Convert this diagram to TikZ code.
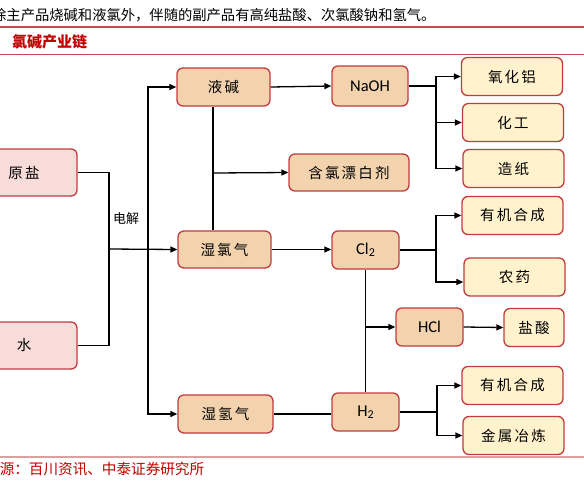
\documentclass[tikz,border=0pt]{standalone}
\usepackage{fontspec}
\setmainfont{Noto Sans CJK SC}
\newfontfamily\latfont{Carlito}
\usetikzlibrary{arrows.meta,calc}
\definecolor{boxred}{HTML}{C23B42}
\definecolor{pinkfill}{HTML}{F8DCDA}
\definecolor{tanfill}{HTML}{F2D3AE}
\definecolor{yelfill}{HTML}{FFF2CC}
\definecolor{hdrred}{HTML}{C0504D}
\definecolor{txtred}{HTML}{C00000}
\tikzset{
  basebox/.style={draw=boxred, line width=1.3pt, rounded corners=6pt, inner sep=0pt,
    font=\fontsize{14.5}{16}\selectfont\addfontfeatures{LetterSpace=15}},
  srcbox/.style={basebox, fill=pinkfill, minimum width=106pt, minimum height=47pt},
  midbox/.style={basebox, fill=tanfill},
  endbox/.style={basebox, fill=yelfill, minimum width=101pt, minimum height=38pt},
  chem/.style={font=\latfont\fontsize{16.5}{18}\selectfont},
  conn/.style={line width=1.3pt, black},
  arr/.style={conn, -{Triangle[length=7pt,width=6pt]}}
}
\begin{document}
\begin{tikzpicture}[x=1pt,y=-1pt]
\useasboundingbox (0,0) rectangle (584,483);
% header
\node[anchor=west, inner sep=0pt, font=\fontsize{14.3}{16}\selectfont] (intro) at (-8,15) {除主产品烧碱和液氯外，伴随的副产品有高纯盐酸、次氯酸钠和氢气。};
\draw[hdrred, line width=1.6pt] (0,27) -- (584,27);
\node[anchor=west, inner sep=0pt, text=txtred, font=\fontsize{15}{17}\selectfont\bfseries] (title) at (12,42) {氯碱产业链};
\draw[hdrred, line width=0.9pt] (0,54) -- (584,54);
\draw[hdrred!55, line width=1.2pt] (0,457) -- (584,457);
\node[anchor=west, inner sep=0pt, text=txtred, font=\fontsize{14.6}{16}\selectfont] (src) at (-15,469) {来源：百川资讯、中泰证券研究所};

% boxes
\node[srcbox] (yuanyan) at (24,172.5) {原盐};
\node[srcbox] (shui) at (24,345.5) {水};
\node[midbox, minimum width=93pt, minimum height=38pt] (yejian) at (223.5,87) {液碱};
\node[midbox, minimum width=93pt, minimum height=37pt] (shilvqi) at (224.5,249.5) {湿氯气};
\node[midbox, minimum width=95pt, minimum height=38pt] (shiqingqi) at (225.5,414) {湿氢气};
\node[midbox, minimum width=120pt, minimum height=37pt] (hanlv) at (349,172.5) {含氯漂白剂};
\node[midbox, chem, minimum width=76pt, minimum height=40pt] (naoh) at (370,86) {NaOH};
\node[midbox, chem, minimum width=67pt, minimum height=38pt] (cl2) at (365.5,250) {Cl\raisebox{-1.5pt}{\fontsize{12}{12}\selectfont 2}};
\node[midbox, chem, minimum width=67pt, minimum height=38pt] (h2) at (365.5,412) {H\raisebox{-1.5pt}{\fontsize{12}{12}\selectfont 2}};
\node[midbox, chem, minimum width=67pt, minimum height=38pt] (hcl) at (429.5,327) {HCl};
\node[endbox, minimum width=60pt] (yansuan) at (534,327.5) {盐酸};
\node[endbox] (yanghualv) at (512,76.5) {氧化铝};
\node[endbox] (huagong) at (513,122.5) {化工};
\node[endbox] (zaozhi) at (513.5,168.5) {造纸};
\node[endbox] (youji1) at (512.5,215.5) {有机合成};
\node[endbox] (nongyao) at (514.5,277) {农药};
\node[endbox] (youji2) at (512.5,385.5) {有机合成};
\node[endbox] (jinshu) at (513.5,435.5) {金属冶炼};

% electrolysis
\coordinate (j) at (109,249);
\coordinate (bus) at (148,249);
\draw[conn] (yuanyan.east) -| (j);
\draw[conn] (shui.east) -| (j);
\draw[arr] (j) -- (shilvqi.west);
\node[inner sep=0pt, font=\fontsize{13}{15}\selectfont] (dianjie) at (126,219) {电解};
\draw[arr] (bus) |- (yejian.west);
\draw[arr] (bus) |- (shiqingqi.west);

% liquid caustic
\coordinate (v1) at (213,173);
\draw[conn] (yejian.south -| v1) -- (shilvqi.north -| v1);
\draw[arr] (v1) -- (hanlv.west);
\draw[arr] (yejian.east) -- (naoh.west);
\coordinate (n) at (436,86);
\draw[conn] (naoh.east) -- (n);
\draw[arr] (n) |- (yanghualv.west);
\draw[arr] (n) |- (huagong.west);
\draw[arr] (n) |- (zaozhi.west);

% chlorine
\draw[arr] (shilvqi.east) -- (shilvqi.east -| cl2.west);
\coordinate (c) at (436,250);
\draw[conn] (cl2.east) -- (c);
\draw[arr] (c) |- (youji1.west);
\draw[arr] (c) |- ($(nongyao.west)+(0,5)$);
\draw[conn] (cl2.south) -- (h2.north);
\coordinate (hc) at (365.5,327);
\draw[arr] (hc) -- (hcl.west);
\draw[arr] (hcl.east) -- (yansuan.west);

% hydrogen
\draw[conn] (shiqingqi.east) -- (shiqingqi.east -| h2.west);
\coordinate (h) at (437,412);
\draw[conn] (h2.east) -- (h);
\draw[arr] (h) |- (youji2.west);
\draw[arr] (h) |- (jinshu.west);
\end{tikzpicture}
\end{document}
